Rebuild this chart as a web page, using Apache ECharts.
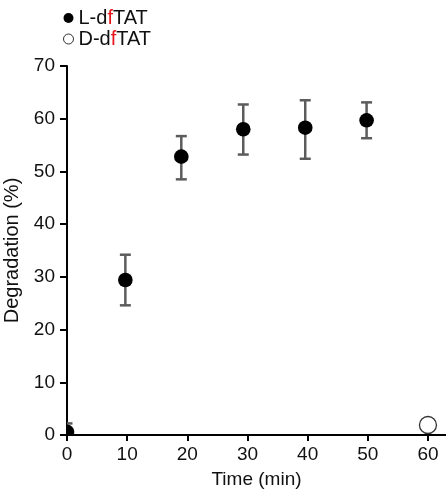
<!DOCTYPE html>
<html>
<head>
<meta charset="utf-8">
<script src="https://cdn.jsdelivr.net/npm/echarts@6/dist/echarts.min.js"></script>
<style>
  html, body { margin: 0; padding: 0; background: #fff; }
  #main { width: 446px; height: 496px; }
</style>
</head>
<body>
<div id="main"></div>
<script>
// L-dfTAT: time (min), mean and error bar ends (%)
var timesL = [0, 9.7, 19, 29.3, 39.6, 49.8];
var meanL = [0.6, 29.4, 52.8, 58.0, 58.3, 59.7];
var upperL = [2.2, 34.2, 56.7, 62.7, 63.5, 63.1];
var lowerL = [-1.0, 24.6, 48.5, 53.2, 52.4, 56.3];
// D-dfTAT
var timesD = [60];
var meanD = [1.9];
// ticks
var xTicks = [0, 10, 20, 30, 40, 50, 60];

var myChart = echarts.init(document.getElementById('main'));

var font = 'Liberation Sans, Arial, sans-serif';
var barColor = '#5c5c5c';

var lData = timesL.map(function (t, i) {
    return [t, meanL[i], lowerL[i], upperL[i]];
});
var dData = timesD.map(function (t, i) {
    return [t, meanD[i]];
});

var option = {
    animation: false,
    textStyle: { fontFamily: font },
    legend: {
        orient: 'vertical',
        left: 58,
        top: 3,
        itemWidth: 10,
        itemHeight: 10,
        itemGap: 1,
        textStyle: {
            fontSize: 20,
            color: '#111',
            rich: {
                a: { fontSize: 20, lineHeight: 20, color: '#111', fontFamily: font },
                r: { fontSize: 20, lineHeight: 20, color: '#e8141b', fontFamily: font }
            }
        },
        formatter: function (name) {
            var p = name.split('f');
            return '{a|' + p[0] + '}{r|f}{a|' + p[1] + '}';
        },
        data: [
            { name: 'L-dfTAT', icon: 'circle', itemStyle: { color: '#000' } },
            { name: 'D-dfTAT', icon: 'circle', itemStyle: { color: '#fff', borderColor: '#000', borderWidth: 1 } }
        ]
    },
    grid: { left: 67, right: 0, top: 66, bottom: 61, outerBoundsMode: 'none' },
    xAxis: {
        type: 'value',
        min: 0,
        max: 63,
        interval: 10,
        name: 'Time (min)',
        nameLocation: 'middle',
        nameGap: 35,
        nameTextStyle: { fontSize: 19, color: '#111' },
        splitLine: { show: false },
        axisLine: { lineStyle: { color: '#000', width: 2 } },
        axisTick: { customValues: xTicks, length: 6, lineStyle: { color: '#000', width: 2 } },
        axisLabel: { customValues: xTicks, fontSize: 19, color: '#111', margin: 10 }
    },
    yAxis: {
        type: 'value',
        min: 0,
        max: 70,
        interval: 10,
        name: 'Degradation (%)',
        nameLocation: 'middle',
        nameGap: 38,
        nameTextStyle: { fontSize: 20, color: '#111' },
        splitLine: { show: false },
        axisLine: { show: true, lineStyle: { color: '#000', width: 2 } },
        axisTick: { show: true, length: 7, lineStyle: { color: '#000', width: 2 } },
        axisLabel: { fontSize: 19, color: '#111', margin: 12 }
    },
    series: [
        {
            name: 'L-dfTAT',
            type: 'custom',
            clip: true,
            itemStyle: { color: '#000' },
            data: lData,
            renderItem: function (params, api) {
                var x = api.value(0);
                var c = api.coord([x, api.value(1)]);
                var lo = api.coord([x, api.value(2)]);
                var hi = api.coord([x, api.value(3)]);
                var cap = 5.5;
                var st = { stroke: barColor, lineWidth: 2.5 };
                return {
                    type: 'group',
                    children: [
                        { type: 'line', shape: { x1: c[0], y1: lo[1], x2: c[0], y2: hi[1] }, style: st },
                        { type: 'line', shape: { x1: c[0] - cap, y1: hi[1], x2: c[0] + cap, y2: hi[1] }, style: st },
                        { type: 'line', shape: { x1: c[0] - cap, y1: lo[1], x2: c[0] + cap, y2: lo[1] }, style: st },
                        { type: 'circle', shape: { cx: c[0], cy: c[1], r: 7.3 }, style: { fill: '#000' } }
                    ]
                };
            }
        },
        {
            name: 'D-dfTAT',
            type: 'scatter',
            symbol: 'circle',
            symbolSize: 17,
            clip: false,
            itemStyle: { color: '#fff', borderColor: '#000', borderWidth: 1.3 },
            data: dData
        }
    ]
};

myChart.setOption(option);
</script>
</body>
</html>
